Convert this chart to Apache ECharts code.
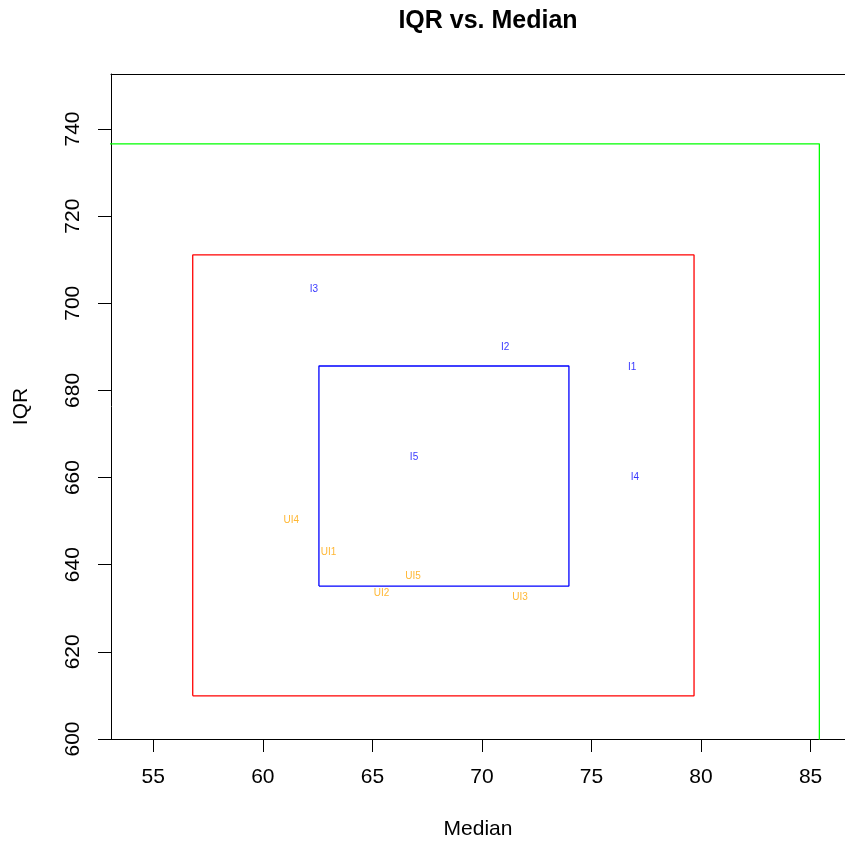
<!DOCTYPE html>
<html><head><meta charset="utf-8">
<script src="https://cdn.jsdelivr.net/npm/echarts@6/dist/echarts.min.js"></script>
<style>html,body{margin:0;padding:0;background:#fff}#c{width:845px;height:843px}</style>
</head><body><div id="c"></div>
<script>
// Tick labels
const xTicks = [55, 60, 65, 70, 75, 80, 85];
const yTicks = [600, 620, 640, 660, 680, 700, 720, 740];
// Rectangles: [xmin, xmax, ymin, ymax]
const rectGreen = [45, 85.4, 580, 736.6];
const rectRed = [56.8, 79.68, 609.9, 711.1];
const rectBlue = [62.56, 73.97, 635.1, 685.6];
// Labeled points
const iNames = ['I1', 'I2', 'I3', 'I4', 'I5'];
const iMedian = [76.86, 71.06, 62.33, 76.98, 66.9];
const iIQR = [685.5, 690.2, 703.5, 660.3, 664.9];
const uiNames = ['UI1', 'UI2', 'UI3', 'UI4', 'UI5'];
const uiMedian = [63.0, 65.42, 71.74, 61.3, 66.86];
const uiIQR = [643.0, 633.6, 632.8, 650.4, 637.5];

function rectPath(r) {
  return [[r[0], r[2]], [r[1], r[2]], [r[1], r[3]], [r[0], r[3]], [r[0], r[2]]];
}
function pts(xs, ys, names) {
  return xs.map((x, i) => ({ value: [x, ys[i]], name: names[i] }));
}
const font = 'Liberation Sans, Arial, Helvetica, sans-serif';
const chart = echarts.init(document.getElementById('c'), null, { renderer: 'canvas' });
function lineSeries(r, color) {
  return {
    type: 'line', data: rectPath(r), symbol: 'none', clip: true, silent: true,
    lineStyle: { color: color, width: 1.3 }, animation: false
  };
}
function labelSeries(xs, ys, names, color) {
  return {
    type: 'scatter', data: pts(xs, ys, names), symbolSize: 1,
    itemStyle: { color: 'rgba(0,0,0,0)' }, animation: false, silent: true,
    label: { show: true, position: 'inside', offset: [0, 1], formatter: p => p.name, color: color,
      fontSize: 10, fontFamily: font }
  };
}
const XMIN = 53.07, XMAX = 86.57;
chart.setOption({
  animation: false,
  backgroundColor: '#fff',
  title: {
    text: 'IQR vs. Median', left: 483, top: 4, textAlign: 'center',
    textStyle: { fontFamily: font, fontSize: 25, fontWeight: 'bold', color: '#000' }
  },
  grid: { left: 111, top: 74, width: 734, height: 665, show: false, containLabel: false, outerBoundsMode: 'none' },
  xAxis: [{
    type: 'value', min: XMIN, max: XMAX,
    name: 'Median', nameLocation: 'middle', nameGap: 80,
    nameTextStyle: { fontFamily: font, fontSize: 21, color: '#000' },
    axisLine: { show: true, onZero: false, lineStyle: { color: '#000', width: 1 } },
    axisTick: { show: true, inside: false, length: 13, lineStyle: { color: '#000' }, customValues: xTicks },
    axisLabel: { customValues: xTicks, margin: 28, fontFamily: font, fontSize: 21, color: '#000' },
    splitLine: { show: false }
  }, {
    type: 'value', position: 'top', min: XMIN, max: XMAX,
    axisLine: { show: true, onZero: false, lineStyle: { color: '#000', width: 1 } },
    axisTick: { show: false }, axisLabel: { show: false }, splitLine: { show: false }
  }],
  yAxis: {
    type: 'value', min: 600, max: 752.62,
    name: 'IQR', nameLocation: 'middle', nameGap: 79, nameRotate: 90,
    nameTextStyle: { fontFamily: font, fontSize: 21, color: '#000' },
    axisLine: { show: true, onZero: false, lineStyle: { color: '#000', width: 1 } },
    axisTick: { show: true, inside: false, length: 13, lineStyle: { color: '#000' }, customValues: yTicks },
    axisLabel: { customValues: yTicks, rotate: 90, margin: 27, fontFamily: font, fontSize: 21, color: '#000' },
    splitLine: { show: false }
  },
  series: [
    lineSeries(rectGreen, '#00ff00'),
    lineSeries(rectRed, '#ff0000'),
    lineSeries(rectBlue, '#0000ff'),
    labelSeries(iMedian, iIQR, iNames, '#0000ff'),
    labelSeries(uiMedian, uiIQR, uiNames, '#ffa500')
  ]
});
</script></body></html>
